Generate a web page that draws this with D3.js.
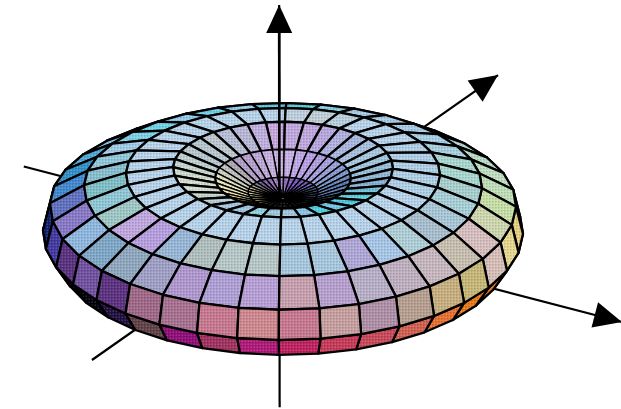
<!DOCTYPE html>
<html>
<head>
<meta charset="utf-8">
<style>
  html, body { margin: 0; padding: 0; background: #fff; }
  svg { display: block; }
</style>
<script src="https://cdn.jsdelivr.net/npm/d3@7"></script>
</head>
<body>
<svg id="svg1"></svg>
<script>
// surface of revolution: profile, inner lip to underside
const ringRadius = [1, 14.6, 28.3, 45.8, 65.4, 82.9, 97.1, 100, 93.75];
const ringHeight = [14, 16.7, 22.5, 26.7, 24.2, 18.9, 11.3, 0, -9];
const spokeAngles = d3.range(1, 361, 10);

// axis ends in the same units as the profile: [x, y, z]
const axisEnds = [
  {name: "z", from: [-1.4, 0, -73], to: [-1.6, 0, 94.6]},
  {name: "a", from: [-108, -65, 0], to: [141.2, 83.3, 0]},
  {name: "b", from: [-79.6, 118.5, 0], to: [89.6, -155.7, 0]}
];

// cell colours, one row per band between two rings, one entry per 10 degrees
const bandColors = [
  "#2a3a58 #2a3a60 #1a2a40 #102030 #101820 #0a1018 #0a0a10 #0a0a10 #0a0a10 #0a0a10 #101010 #181818 #302818 #605030 #a09050 #d8d090 #e8e0a0 #e0d8a0 #d8d0a0 #c8b890 #b0a8a0 #807888 #705888 #8060a8 #9070b8 #a080c0 #a080c0 #9070c0 #8060c0 #7858c0 #7858c0 #7858b8 #6868b8 #586898 #486080 #384878",
  "#5878b0 #6080b8 #406890 #304868 #203050 #182840 #102030 #102030 #182838 #182838 #202830 #404040 #686048 #a8a060 #e0d888 #f0e8b0 #f4ecb8 #ecE8c0 #e0e0c0 #d0d0c0 #c0c0c0 #b0a8b0 #b0a0c8 #b8a0d0 #c0a8d8 #c8b0e0 #c8b0e0 #c8b0e8 #c0a8e8 #b8a0e8 #b0a0e0 #a8a0e0 #98a0d8 #8898d0 #7898c8 #6888b8",
  "#90b8d8 #88b0d8 #70c0d8 #60d0e0 #50c8e0 #70c8e8 #50d0e0 #88c8e8 #a0c8e0 #a0c8e0 #90d0e0 #a0c8e0 #a8c8e0 #b8d0d8 #c8d8d0 #d8e0d8 #d8e0d0 #d0dcd0 #c8d8d0 #c0d0d0 #b8c8d0 #b8c8d0 #c0c8d0 #b8c0d8 #b8b8d8 #c0b0e0 #c8a8e0 #c0a8e0 #c0a8e0 #b8a8e0 #b0b0e0 #a8b8e0 #a8c0e0 #a8c8e0 #a0c8e0 #98c0dc",
  "#b0d0e8 #b0d0e8 #b8d4ec #b8d4ec #b8d4ec #b8d4ec #b8d4ec #b8d4ec #b8d4ec #b8d4ec #b8d4ec #b8d4ec #b8d4ec #b8d4ec #b8d4ec #b8d4ec #b8d4ec #b8d4ec #b8d4ec #b8d4ec #b8d4ec #b8d4ec #b8d4ec #b8d4ec #b8d4ec #b8d4ec #b8d4ec #c0d0e0 #c0d0d8 #b8d0e0 #b8d4ec #b8d4ec #b8d4ec #b0d0e8 #b0d0e8 #b0d0e8",
  "#a8d0d0 #a8d0d8 #a8c8d8 #a8c0d0 #b0d0d8 #a8c8e8 #b0a8d8 #a8c8e0 #a8c8e0 #b8c8c8 #b8c8c8 #b0c0c0 #98b8d8 #b8a0e0 #c0a8e0 #a0c8c8 #90c8d8 #80c0c8 #88c0d0 #90c8dc #a0cce8 #80d0e8 #70d4e8 #90cce8 #70d0e8 #98cce8 #60d0e0 #60d4e0 #88d0e4 #a8cce8 #a8cce8 #a8cce8 #a8d0e8 #a8d0e0 #a8d8d0 #a8d8d0",
  "#c8e0a8 #d0d8b0 #d8c0c0 #c8c0b0 #c8b8c0 #c0b0c0 #b8b0c8 #b8a0d0 #c8a0b0 #b8a0d8 #b0a0d8 #b098d0 #a0a0c8 #90a8c0 #80a8c8 #90b8e0 #8878c8 #6070c0 #4088d0 #3090c8 #50a8d8 #80c0e0 #90c8e4 #a0cce8 #80d0e0 #98cce8 #60d0e0 #98cce8 #60d0e0 #a0cce8 #a8d0e8 #a8d4e0 #b0d8d0 #b8dcc8 #c0e0c0 #c0e0b8",
  "#e8d080 #e8d890 #d8c0b8 #c8b878 #c8b080 #b8a090 #b090a8 #c8a0a0 #c87890 #d08890 #c87890 #a87090 #a06888 #5a3080 #7050a0 #583080 #4038a0 #102070 #101870 #2050a0 #80a0c0 #a0c0d0 #a0c0d0 #a0c0d0 #a0c0d0 #a0c0d0 #a0c0d0 #a0c0d0 #a0c0d0 #a0c0d0 #a0c0d0 #a0c0d0 #b0c8b8 #c8d8a0 #d8d890 #e0d888",
  "#e87818 #e87818 #e87818 #e87818 #e87030 #d06050 #c84858 #c83858 #c02060 #b01878 #a03060 #900878 #604048 #201040 #000010 #000010 #101030 #101040 #404060 #404060 #404060 #404060 #404060 #404060 #404060 #404060 #404060 #404060 #404060 #404060 #404060 #404060 #404060 #404060 #c06030 #e07818"
].map(row => row.split(" "));

const width = 621;
const height = 409;
const unit = 2.4;         // pixels per profile unit
const originX = 283;
const originY = 232;
const tiltFront = 0.45;   // near half of a ground circle
const tiltBack = 0.42;    // far half is a little flatter

const svg = d3.select("#svg1").attr("width", width).attr("height", height);

const defs = svg.append("defs");
defs.append("filter").attr("id", "soft")
    .append("feGaussianBlur").attr("stdDeviation", 0.4);
const dither = defs.append("pattern").attr("id", "dither")
    .attr("patternUnits", "userSpaceOnUse")
    .attr("width", 3).attr("height", 3);
dither.append("rect").attr("width", 1.5).attr("height", 1.5).attr("fill", "#000").attr("opacity", 0.14);
dither.append("rect").attr("x", 1.5).attr("y", 1.5).attr("width", 1.5).attr("height", 1.5).attr("fill", "#fff").attr("opacity", 0.16);

const xScale = d3.scaleLinear().domain([-100, 100]).range([originX - 100 * unit, originX + 100 * unit]);
const yScale = d3.scaleLinear().domain([100, -100]).range([originY - 100 * unit, originY + 100 * unit]);

function project(x, y, z) {
  return [xScale(x), yScale(z - y * (y < 0 ? tiltBack : tiltFront))];
}

function ringPoint(ring, angle) {
  const a = angle * Math.PI / 180;
  return project(ringRadius[ring] * Math.cos(a), ringRadius[ring] * Math.sin(a), ringHeight[ring]);
}

const chart = svg.append("g").attr("filter", "url(#soft)");

// axes go under the surface, so it hides what it should
const axisGroup = chart.append("g");
const headLength = 28;
const headHalf = 13;

axisEnds.forEach(function(axis) {
  const p0 = project(...axis.from);
  const p1 = project(...axis.to);
  axisGroup.append("line")
      .attr("x1", p0[0]).attr("y1", p0[1])
      .attr("x2", p1[0]).attr("y2", p1[1])
      .attr("stroke", "#000")
      .attr("stroke-width", 2.2);
  const len = Math.hypot(p1[0] - p0[0], p1[1] - p0[1]);
  const ux = (p1[0] - p0[0]) / len;
  const uy = (p1[1] - p0[1]) / len;
  axisGroup.append("path")
      .attr("d", d3.line()([
        p1,
        [p1[0] - ux * headLength - uy * headHalf, p1[1] - uy * headLength + ux * headHalf],
        [p1[0] - ux * headLength + uy * headHalf, p1[1] - uy * headLength - ux * headHalf]
      ]) + "Z")
      .attr("fill", "#000");
});

// build the cells and paint them back to front
const cells = [];
bandColors.forEach(function(row, band) {
  spokeAngles.forEach(function(angle, i) {
    const a = (angle + 5) * Math.PI / 180;
    const r = (ringRadius[band] + ringRadius[band + 1]) / 2;
    const z = (ringHeight[band] + ringHeight[band + 1]) / 2;
    cells.push({
      band: band,
      color: row[i],
      depth: r * Math.sin(a) * 0.89 + z * tiltFront,
      points: [
        ringPoint(band, angle),
        ringPoint(band, angle + 10),
        ringPoint(band + 1, angle + 10),
        ringPoint(band + 1, angle)
      ]
    });
  });
});
cells.sort((p, q) => p.depth - q.depth);

const cell = chart.append("g").selectAll("g")
    .data(cells)
    .enter()
    .append("g");

cell.append("path")
    .attr("d", d => d3.line()(d.points) + "Z")
    .attr("fill", d => d.color);

cell.append("path")
    .attr("d", d => d3.line()(d.points) + "Z")
    .attr("fill", "url(#dither)")
    .attr("stroke", "#000")
    .attr("stroke-width", d => d.band < 2 ? 1.4 : 2.3)
    .attr("stroke-linejoin", "round");

// upper part of the vertical axis stands in the hole, in front of the far wall
const top0 = project(-1.5, 0, 14);
const top1 = project(-1.6, 0, 90);
chart.append("line")
    .attr("x1", top0[0]).attr("y1", top0[1])
    .attr("x2", top1[0]).attr("y2", top1[1])
    .attr("stroke", "#000")
    .attr("stroke-width", 2.6);
</script>
</body>
</html>
